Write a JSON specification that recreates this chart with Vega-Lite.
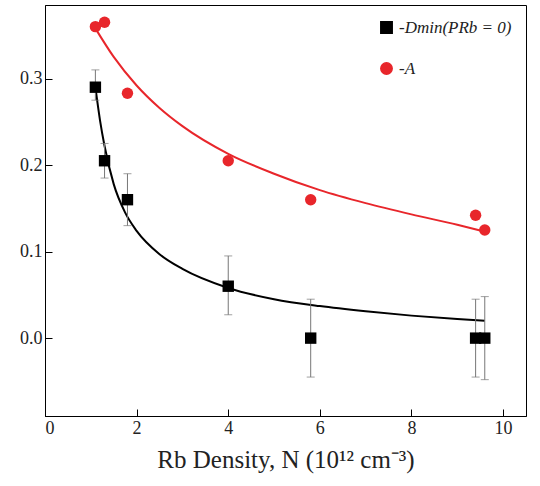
{
  "$schema": "https://vega.github.io/schema/vega-lite/v6.json",
  "width": 540,
  "height": 486,
  "autosize": {"type": "fit", "contains": "padding"},
  "padding": {"left": 5, "top": 5, "right": 14, "bottom": 14},
  "config": {
    "font": "Liberation Serif",
    "view": {"stroke": "black", "strokeWidth": 1},
    "axis": {"grid": false, "labelFontSize": 18, "titleFontSize": 25, "titleFontWeight": "normal", "tickColor": "black", "domainColor": "black", "labelColor": "#222", "titleColor": "#222", "ticks": true, "tickSize": -7, "labelPadding": 10}
  },
  "datasets": {
    "pts": [
      {"N": 1.1, "v": 0.29, "lo": 0.275, "hi": 0.31, "s": "-Dmin(PRb = 0)"},
      {"N": 1.3, "v": 0.205, "lo": 0.185, "hi": 0.225, "s": "-Dmin(PRb = 0)"},
      {"N": 1.8, "v": 0.16, "lo": 0.13, "hi": 0.19, "s": "-Dmin(PRb = 0)"},
      {"N": 4.0, "v": 0.06, "lo": 0.027, "hi": 0.095, "s": "-Dmin(PRb = 0)"},
      {"N": 5.8, "v": 0.0, "lo": -0.045, "hi": 0.045, "s": "-Dmin(PRb = 0)"},
      {"N": 9.4, "v": 0.0, "lo": -0.045, "hi": 0.045, "s": "-Dmin(PRb = 0)"},
      {"N": 9.6, "v": 0.0, "lo": -0.048, "hi": 0.048, "s": "-Dmin(PRb = 0)"},
      {"N": 1.1, "v": 0.36, "s": "-A"},
      {"N": 1.3, "v": 0.365, "s": "-A"},
      {"N": 1.8, "v": 0.283, "s": "-A"},
      {"N": 4.0, "v": 0.205, "s": "-A"},
      {"N": 5.8, "v": 0.16, "s": "-A"},
      {"N": 9.4, "v": 0.142, "s": "-A"},
      {"N": 9.6, "v": 0.125, "s": "-A"}
    ],
    "fit": [
      {"N": 1.1, "v": 0.29, "s": "-Dmin(PRb = 0)"},
      {"N": 1.2, "v": 0.252, "s": "-Dmin(PRb = 0)"},
      {"N": 1.3, "v": 0.222, "s": "-Dmin(PRb = 0)"},
      {"N": 1.5, "v": 0.178, "s": "-Dmin(PRb = 0)"},
      {"N": 1.75, "v": 0.145, "s": "-Dmin(PRb = 0)"},
      {"N": 2.0, "v": 0.124, "s": "-Dmin(PRb = 0)"},
      {"N": 2.5, "v": 0.097, "s": "-Dmin(PRb = 0)"},
      {"N": 3.0, "v": 0.08, "s": "-Dmin(PRb = 0)"},
      {"N": 4.0, "v": 0.058, "s": "-Dmin(PRb = 0)"},
      {"N": 5.0, "v": 0.045, "s": "-Dmin(PRb = 0)"},
      {"N": 6.0, "v": 0.037, "s": "-Dmin(PRb = 0)"},
      {"N": 7.0, "v": 0.031, "s": "-Dmin(PRb = 0)"},
      {"N": 8.0, "v": 0.026, "s": "-Dmin(PRb = 0)"},
      {"N": 9.0, "v": 0.022, "s": "-Dmin(PRb = 0)"},
      {"N": 9.6, "v": 0.02, "s": "-Dmin(PRb = 0)"},
      {"N": 1.1, "v": 0.358, "s": "-A"},
      {"N": 1.5, "v": 0.325, "s": "-A"},
      {"N": 2.0, "v": 0.292, "s": "-A"},
      {"N": 2.5, "v": 0.266, "s": "-A"},
      {"N": 3.0, "v": 0.245, "s": "-A"},
      {"N": 4.0, "v": 0.213, "s": "-A"},
      {"N": 5.0, "v": 0.19, "s": "-A"},
      {"N": 6.0, "v": 0.171, "s": "-A"},
      {"N": 7.0, "v": 0.156, "s": "-A"},
      {"N": 8.0, "v": 0.143, "s": "-A"},
      {"N": 9.0, "v": 0.131, "s": "-A"},
      {"N": 9.6, "v": 0.123, "s": "-A"}
    ]
  },
  "encoding": {
    "x": {"field": "N", "type": "quantitative", "scale": {"domain": [0, 10.5], "nice": false}, "axis": {"values": [0, 2, 4, 6, 8, 10], "title": "Rb Density, N  (10¹² cm⁻³)", "titlePadding": 10}},
    "y": {"field": "v", "type": "quantitative", "scale": {"domain": [-0.09, 0.385], "nice": false}, "axis": {"values": [0, 0.1, 0.2, 0.3], "format": ".1f", "title": null, "minExtent": 40}},
    "color": {"field": "s", "type": "nominal", "scale": {"domain": ["-Dmin(PRb = 0)", "-A"], "range": ["black", "#e8262b"]},
      "legend": {"title": null, "orient": "top-right", "labelFontSize": 17, "labelFontStyle": "italic", "labelColor": "#222", "symbolSize": 130, "rowPadding": 22, "offset": 14}}
  },
  "layer": [
    {"data": {"name": "fit"}, "mark": {"type": "line", "strokeWidth": 2, "interpolate": "monotone"}, "encoding": {"detail": {"field": "s"}}},
    {"data": {"name": "pts"}, "mark": {"type": "rule", "strokeWidth": 1}, "encoding": {"y": {"field": "lo", "type": "quantitative"}, "y2": {"field": "hi"}, "color": {"value": "#777"}}},
    {"data": {"name": "pts"}, "mark": {"type": "tick", "orient": "horizontal", "size": 8, "thickness": 1}, "encoding": {"y": {"field": "lo", "type": "quantitative"}, "color": {"value": "#777"}}},
    {"data": {"name": "pts"}, "mark": {"type": "tick", "orient": "horizontal", "size": 8, "thickness": 1}, "encoding": {"y": {"field": "hi", "type": "quantitative"}, "color": {"value": "#777"}}},
    {"data": {"name": "pts"}, "mark": {"type": "point", "filled": true, "opacity": 1, "size": 130}, "encoding": {"shape": {"field": "s", "type": "nominal", "scale": {"domain": ["-Dmin(PRb = 0)", "-A"], "range": ["square", "circle"]}, "legend": null}}}
  ]
}
